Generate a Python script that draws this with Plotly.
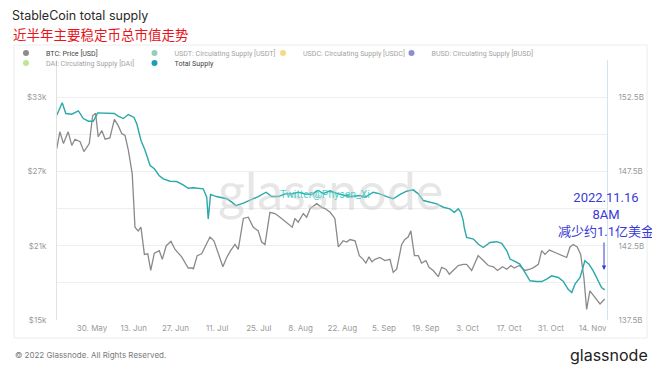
import plotly.graph_objects as go

# ---------------- data ----------------
btc_dates = ["2022-05-18 04:00","2022-05-19 05:00","2022-05-20 10:00","2022-05-22","2022-05-23 05:00","2022-05-24 07:00","2022-05-26","2022-05-27 07:00","2022-05-29 02:00","2022-05-30 05:00","2022-05-31 05:00",
             "2022-06-01 02:00","2022-06-02 07:00","2022-06-03 10:00","2022-06-05","2022-06-06 12:00","2022-06-07 19:00","2022-06-09","2022-06-10 02:00","2022-06-11 05:00","2022-06-12 12:00","2022-06-13 10:00","2022-06-14 12:00","2022-06-15 10:00","2022-06-16 14:00","2022-06-17 17:00","2022-06-18 17:00","2022-06-19 22:00","2022-06-21 14:00","2022-06-22 14:00","2022-06-23 22:00","2022-06-25 12:00","2022-06-26 21:00","2022-06-29 02:00",
             "2022-07-01 07:00","2022-07-02 17:00","2022-07-03","2022-07-04 07:00","2022-07-05 19:00","2022-07-06 22:00","2022-07-08 14:00","2022-07-09 22:00","2022-07-11 10:00","2022-07-12 22:00","2022-07-14 05:00","2022-07-15 12:00","2022-07-17","2022-07-18 02:00","2022-07-19 19:00","2022-07-21 11:00","2022-07-23 02:00","2022-07-24 19:00","2022-07-25 22:00","2022-07-27 01:00","2022-07-28 17:00","2022-07-30 10:00",
             "2022-08-01 02:00","2022-08-03 07:00","2022-08-05 05:00","2022-08-06 02:00","2022-08-07 05:00","2022-08-08 22:00","2022-08-10 01:00","2022-08-11 05:00","2022-08-13 10:00","2022-08-15 02:00","2022-08-16 05:00","2022-08-17 22:00","2022-08-19 12:00","2022-08-20 16:00","2022-08-22 07:00","2022-08-23 12:00","2022-08-24 14:00","2022-08-26 07:00","2022-08-27 17:00","2022-08-29","2022-08-29 22:00","2022-08-30 23:00","2022-08-31 22:00",
             "2022-09-02","2022-09-03 14:00","2022-09-05 07:00","2022-09-07","2022-09-08 02:00","2022-09-09 06:00","2022-09-10 22:00","2022-09-12","2022-09-13 02:00","2022-09-14","2022-09-15 05:00","2022-09-16 12:00","2022-09-17 14:00","2022-09-19 02:00","2022-09-20 02:00","2022-09-21 12:00","2022-09-23 05:00","2022-09-24 08:00","2022-09-25 19:00","2022-09-26 22:00","2022-09-28 05:00","2022-09-29 22:00",
             "2022-10-01 14:00","2022-10-02 17:00","2022-10-04 10:00","2022-10-06 14:00","2022-10-08 07:00","2022-10-10","2022-10-11 17:00","2022-10-13 02:00","2022-10-14 19:00","2022-10-16 05:00","2022-10-17 14:00","2022-10-18 17:00","2022-10-20 10:00","2022-10-22 07:00","2022-10-24","2022-10-25 07:00","2022-10-26 19:00","2022-10-27 22:00","2022-10-29","2022-10-30 12:00",
             "2022-11-01 10:00","2022-11-03","2022-11-05 07:00","2022-11-06 10:00","2022-11-07 12:00","2022-11-08 20:00","2022-11-10","2022-11-11 02:00","2022-11-12","2022-11-13 02:00","2022-11-14 19:00","2022-11-16 12:00","2022-11-18 02:00"]
btc_price = [28840,30200,29250,30200,29100,29600,29400,28600,29250,31500,31700,
             29800,30300,29600,29700,31200,30700,30050,29900,28700,26800,22500,22200,22500,20300,20350,19000,20400,20600,19900,21000,21350,20700,20100,
             19200,19200,19100,20200,20350,20900,21700,21400,20300,19300,20050,20600,21100,20700,23200,23300,22500,22200,21300,21100,23700,23600,
             23300,22900,22500,23200,22900,23600,23300,24000,24400,24100,24000,23700,23200,20900,21400,21300,21500,21400,20200,19900,19600,20100,19700,
             19900,20050,19800,19900,18850,19100,21100,21500,21700,22200,20200,20200,19600,19800,19250,19000,18500,19250,19100,18700,19000,19400,
             19500,19500,19000,20200,19800,19400,19300,19000,19300,19100,19400,19200,19400,19000,19100,19250,19500,20600,20300,20650,
             20450,20300,20050,20900,21100,20900,20300,18400,15850,17350,16800,16300,16700]

supply_dates = ["2022-05-18 04:00","2022-05-20","2022-05-21 05:00","2022-05-23 05:00","2022-05-25 10:00","2022-05-27 02:00","2022-05-28 19:00","2022-05-30 10:00","2022-05-31 22:00",
                "2022-06-02 07:00","2022-06-05","2022-06-06 12:00","2022-06-07 19:00","2022-06-09 12:00","2022-06-11 05:00","2022-06-13 02:00","2022-06-14","2022-06-15 10:00","2022-06-16 19:00","2022-06-18 12:00","2022-06-19 22:00","2022-06-21 12:00","2022-06-22 22:00","2022-06-25 05:00","2022-06-27 10:00","2022-06-29 14:00",
                "2022-07-01 07:00","2022-07-03","2022-07-06 08:00","2022-07-07 12:00","2022-07-08","2022-07-08 19:00","2022-07-10 19:00","2022-07-12 12:00","2022-07-14 05:00","2022-07-15 22:00","2022-07-17 07:00","2022-07-19 19:00","2022-07-22","2022-07-24 19:00","2022-07-27 10:00","2022-07-29 07:00","2022-07-31 12:00",
                "2022-08-02 19:00","2022-08-05","2022-08-07 05:00","2022-08-09 12:00","2022-08-11 17:00","2022-08-13 22:00","2022-08-15 14:00","2022-08-17 22:00","2022-08-20 16:00","2022-08-22 22:00","2022-08-25 02:00","2022-08-27 22:00","2022-08-29 14:00",
                "2022-09-01 10:00","2022-09-03 14:00","2022-09-05 22:00","2022-09-08 02:00","2022-09-10 10:00","2022-09-12 14:00","2022-09-14 19:00","2022-09-16 12:00","2022-09-18 05:00","2022-09-20 10:00","2022-09-22 17:00","2022-09-24 22:00","2022-09-27 02:00","2022-09-28 14:00","2022-09-29 22:00","2022-09-30 19:00",
                "2022-10-01 14:00","2022-10-01 22:00","2022-10-02 17:00","2022-10-05","2022-10-06 14:00","2022-10-08 07:00","2022-10-10 14:00","2022-10-12 19:00","2022-10-14 12:00","2022-10-16 05:00","2022-10-17 07:00","2022-10-18 22:00","2022-10-20 14:00","2022-10-22 07:00","2022-10-24","2022-10-26 05:00","2022-10-27 22:00","2022-10-29 14:00","2022-10-31 07:00",
                "2022-11-02 12:00","2022-11-04 05:00","2022-11-05 19:00","2022-11-07","2022-11-08 02:00","2022-11-09 19:00","2022-11-11 10:00","2022-11-12 19:00","2022-11-14 05:00","2022-11-15 14:00","2022-11-17","2022-11-18 02:00"]
supply_bn = [151.28,152.12,151.40,151.35,151.57,151.06,150.88,150.88,151.44,
             151.44,151.44,151.40,151.22,151.06,151.33,151.13,150.72,149.60,148.92,147.90,147.68,147.23,147.00,146.84,146.82,146.60,
             146.37,146.40,146.33,145.76,144.30,145.95,145.81,145.76,145.66,145.43,145.20,145.36,145.54,145.81,146.10,145.81,145.81,
             145.99,145.99,146.10,145.99,145.95,146.22,146.01,146.20,145.99,145.88,145.81,145.88,145.76,
             146.10,145.99,145.81,145.66,145.95,146.17,146.26,145.99,145.54,145.43,145.32,145.09,144.98,144.75,144.98,144.75,
             144.19,143.74,143.06,142.95,142.61,142.38,142.72,142.77,142.66,142.16,141.60,141.44,141.26,140.70,140.14,140.09,140.09,140.25,140.47,
             140.36,140.09,139.57,139.35,139.91,140.36,141.49,141.26,140.81,140.25,139.68,139.53]

x_tick_dates = ["2022-05-30","2022-06-13","2022-06-27","2022-07-11","2022-07-25","2022-08-08","2022-08-22",
                "2022-09-05","2022-09-19","2022-10-03","2022-10-17","2022-10-31","2022-11-14"]
x_tick_labels = ["30. May","13. Jun","27. Jun","11. Jul","25. Jul","8. Aug","22. Aug",
                 "5. Sep","19. Sep","3. Oct","17. Oct","31. Oct","14. Nov"]
y_left_ticks = [15000, 21000, 27000, 33000]
y_left_labels = ["$15k", "$21k", "$27k", "$33k"]
y_right_ticks = [137.5, 142.5, 147.5, 152.5]
y_right_labels = ["137.5B", "142.5B", "147.5B", "152.5B"]

# legend entries: (name, dot colour, shown?, row, column)
legend_entries = [("BTC: Price [USD]", "#8c8c8c", True, 0, 0),
                  ("USDT: Circulating Supply [USDT]", "#26a17b", False, 0, 1),
                  ("USDC: Circulating Supply [USDC]", "#f0b90b", False, 0, 2),
                  ("BUSD: Circulating Supply [BUSD]", "#1d1da8", False, 0, 3),
                  ("DAI: Circulating Supply [DAI]", "#7ed321", False, 1, 0),
                  ("Total Supply", "#1f9fb4", True, 1, 1)]

BTC_COLOR = "#8a8a8a"
SUPPLY_COLOR = "#2aa8aa"
GRID = "#eeeeee"
TICK_FONT = dict(family="Inter, Roboto, sans-serif", size=8, color="#9a9a9a")

fig = go.Figure()

fig.add_trace(go.Scatter(x=btc_dates, y=btc_price, mode="lines", name="BTC: Price [USD]",
                         line=dict(color=BTC_COLOR, width=1.3), showlegend=False, yaxis="y"))
fig.add_trace(go.Scatter(x=supply_dates, y=supply_bn, mode="lines", name="Total Supply",
                         line=dict(color=SUPPLY_COLOR, width=1.4), showlegend=False, yaxis="y2"))

# page offset (the html body has an 8px margin), so the figure is drawn 8px smaller
OFF = 8
W, H = 660 - OFF, 372 - OFF
plot_l, plot_r, plot_t, plot_b = 57 - OFF, 607 - OFF, 60 - OFF, 320 - OFF
pw, ph = plot_r - plot_l, plot_b - plot_t

def px(xp):  # reference-image x pixel -> paper
    return (xp - OFF - plot_l) / pw

def py(yp):  # reference-image y pixel -> paper
    return (plot_b - (yp - OFF)) / ph

legend_common = dict(orientation="h", xanchor="left", yanchor="top", bgcolor="rgba(0,0,0,0)",
                     font=dict(family="Roboto, sans-serif", size=7.1, color="#444"),
                     itemclick=False, itemdoubleclick=False, tracegroupgap=0)

LEG_X, COL_STEP = 6, 128.5
ROW_TOP = [38.5, 48.5]
legend_layouts = {}
for i, (name, color, vis, row, col) in enumerate(legend_entries):
    if row == 1 and col == 1:
        lg = legend_id_row2  # share the row-2 legend with DAI
    else:
        lg = "legend" if i == 0 else f"legend{i + 1}"
        legend_layouts[lg] = dict(x=px(LEG_X + col * COL_STEP), y=py(ROW_TOP[row]), **legend_common)
        if row == 1:
            legend_id_row2 = lg
            legend_layouts[lg].update(entrywidth=COL_STEP - 45, entrywidthmode="pixels")
    fig.add_trace(go.Scatter(x=[None], y=[None], mode="markers", name=name,
                             marker=dict(color=color, size=6),
                             visible=True if vis else "legendonly", legend=lg))

fig.update_layout(
    width=W, height=H,
    margin=dict(l=plot_l, r=W - plot_r, t=plot_t, b=H - plot_b, pad=0, autoexpand=False),
    paper_bgcolor="white", plot_bgcolor="white",
    title=dict(text="StableCoin total supply", x=(12 - OFF) / W, xanchor="left", xref="container",
               y=1 - (16 - OFF) / H, yanchor="middle", yref="container",
               font=dict(family="Inter, Roboto, sans-serif", size=12.5, color="#2a2a2a")),
    xaxis=dict(type="date", range=["2022-05-18 06:00", "2022-11-18 20:00"],
               tickvals=x_tick_dates, ticktext=x_tick_labels, tickfont=TICK_FONT,
               showgrid=False, zeroline=False, showline=False, ticks="", ticklabelstandoff=2),
    yaxis=dict(range=[15000, 36000], tickvals=y_left_ticks, ticktext=y_left_labels,
               tickfont=TICK_FONT, showgrid=True, gridcolor=GRID, gridwidth=1,
               minor=dict(dtick=3000, tick0=0, showgrid=True, gridcolor=GRID, gridwidth=1, ticks=""),
               zeroline=False, showline=True, linecolor="#e2e2e2", linewidth=1,
               ticks="", ticklabelstandoff=8),
    yaxis2=dict(range=[137.5, 155], overlaying="y", side="right",
                tickvals=y_right_ticks, ticktext=y_right_labels, tickfont=TICK_FONT,
                showgrid=False, zeroline=False, showline=True, linecolor="#cfe6ef", linewidth=1,
                ticks="", ticklabelstandoff=9),
    showlegend=True,
    **legend_layouts,
)

# outer light frame around legend + plot
fig.add_shape(type="rect", xref="paper", yref="paper",
              x0=px(14), x1=px(647), y0=py(338), y1=py(45),
              line=dict(color="#ececec", width=1), fillcolor="rgba(0,0,0,0)", layer="below")

annotations = [
    dict(text="近半年主要稳定币总市值走势", x=px(11), y=py(34), xanchor="left", yanchor="middle",
         font=dict(family="Noto Sans CJK SC", size=13.5, color="#e8141c")),
    dict(text="glassnode", x=px(330), y=py(190), xanchor="center", yanchor="middle",
         font=dict(family="Lato, Inter, sans-serif", size=52, color="rgba(200,200,200,0.45)")),
    dict(text="Twitter@Physen_Xi", x=px(325), y=py(195), xanchor="center", yanchor="middle",
         font=dict(family="Roboto, sans-serif", size=10.5, color="rgba(40,200,190,0.85)")),
    dict(text="2022.11.16<br>8AM<br>减少约1.1亿美金", x=px(606), y=py(214), xanchor="center", yanchor="middle",
         align="center", font=dict(family="Roboto, Noto Sans CJK SC, sans-serif", size=13, color="#3a3ad6")),
    dict(text="", x=px(604), y=py(270), showarrow=True, ax=0, ay=-29, arrowhead=2, arrowsize=0.9,
         arrowwidth=1, arrowcolor="#3a3ad6"),
    dict(text="© 2022 Glassnode. All Rights Reserved.", x=px(13), y=py(355), xanchor="left", yanchor="middle",
         font=dict(family="Inter, Roboto, sans-serif", size=8, color="#7a7a7a")),
    dict(text="glassnode", x=px(650), y=py(355), xanchor="right", yanchor="middle",
         font=dict(family="Inter, Lato, sans-serif", size=16, color="#222222")),
]
for a in annotations:
    a.setdefault("showarrow", False)
    a["xref"] = "paper"
    a["yref"] = "paper"
    fig.add_annotation(**a)

fig.write_html("out.html")
